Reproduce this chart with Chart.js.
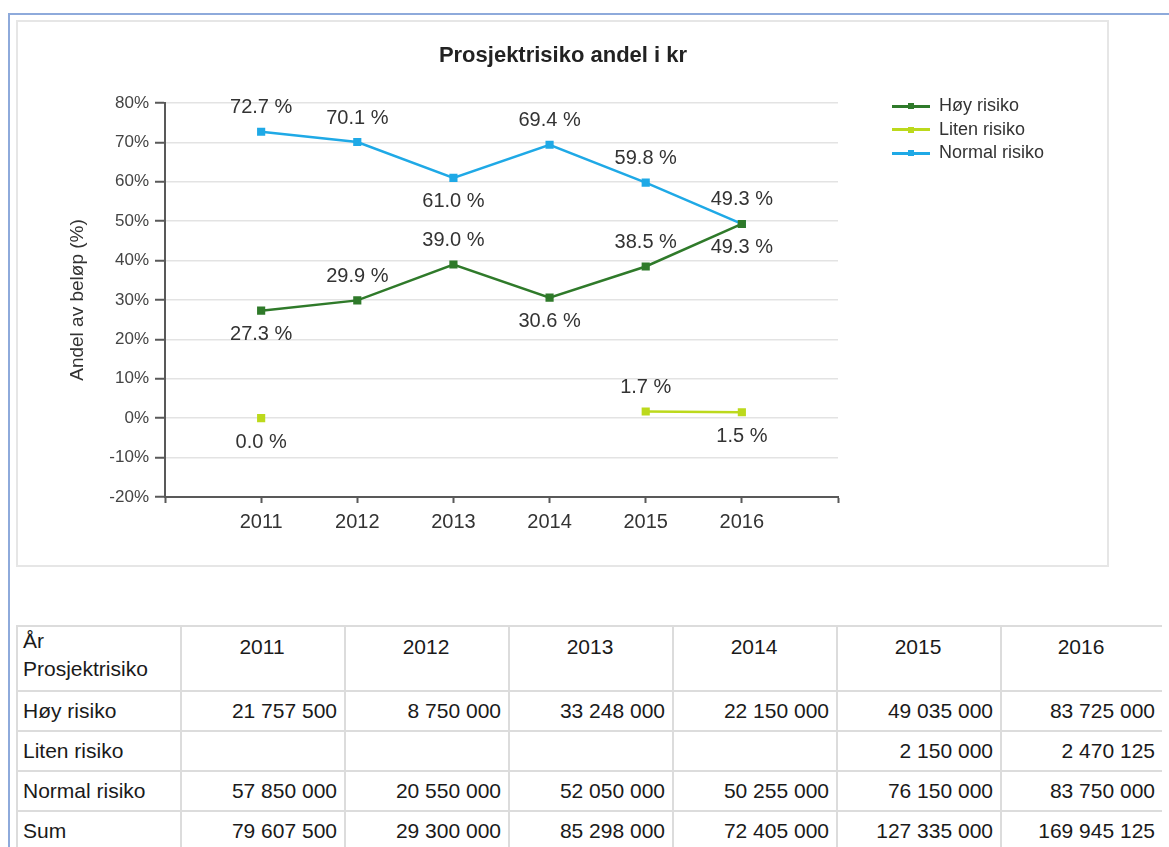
<!DOCTYPE html>
<html>
<head>
<meta charset="utf-8">
<script src="https://cdn.jsdelivr.net/npm/chart.js@4/dist/chart.umd.min.js"></script>
<style>
  html, body { margin: 0; padding: 0; }
  body { width: 1169px; height: 847px; overflow: hidden; position: relative; background: #fff;
         font-family: "Liberation Sans", Arial, sans-serif; }
  #blueTop { position: absolute; left: 8px; top: 13px; width: 1161px; height: 2px; background: #8eaadb; }
  #blueLeft { position: absolute; left: 8px; top: 13px; width: 2px; height: 834px; background: #8eaadb; }
  #panel { position: absolute; left: 16px; top: 20px; width: 1093px; height: 547px; box-sizing: border-box;
           border: 2px solid #e6e6e6; background: #fff; }
  #chartWrap { position: absolute; left: 16px; top: 20px; width: 1093px; height: 547px; }
  #title { position: absolute; left: 0; width: 1126px; top: 42px; line-height: 26px; text-align: center;
           font-size: 22px; font-weight: bold; color: #222; }
  #legend { position: absolute; left: 892px; top: 94px; font-size: 18px; color: #333; }
  .lg { position: relative; height: 23.5px; line-height: 23.5px; padding-left: 47px; white-space: nowrap; }
  .lg .ln { position: absolute; left: 0; top: 10.5px; width: 38px; height: 3px; }
  .lg .dt { position: absolute; left: 16px; top: 9px; width: 6px; height: 6px; }
  #tbl { position: absolute; left: 16px; top: 625px; border-collapse: collapse; font-size: 21px; color: #1a1a1a;
         table-layout: fixed; }
  #tbl td { border: 2px solid #dcdcdc; padding: 0 7px 0 5px; height: 38px; white-space: nowrap; }
  #tbl tr.hdr td { height: 57px; vertical-align: top; text-align: center; padding-top: 6px; line-height: 27px; }
  #tbl tr.hdr td.first { text-align: left; padding-top: 0; line-height: 28px; }
  #tbl td.num { text-align: right; }
  #tbl td:last-child { border-right: none; }
</style>
</head>
<body>
<div id="blueTop"></div>
<div id="blueLeft"></div>
<div id="panel"></div>
<div id="chartWrap"><canvas id="c" width="1093" height="547"></canvas></div>
<div id="title">Prosjektrisiko andel i kr</div>
<div id="legend"></div>
<table id="tbl"></table>
<script>
// ---- data ----
const years = [2011, 2012, 2013, 2014, 2015, 2016];
const seriesNames = ['Høy risiko', 'Liten risiko', 'Normal risiko'];
const hoyRisiko = [27.3, 29.9, 39.0, 30.6, 38.5, 49.3];
const litenRisiko = [0.0, null, null, null, 1.7, 1.5];
const normalRisiko = [72.7, 70.1, 61.0, 69.4, 59.8, 49.3];

// table amounts (kr)
const tableHoy = [21757500, 8750000, 33248000, 22150000, 49035000, 83725000];
const tableLiten = [null, null, null, null, 2150000, 2470125];
const tableNormal = [57850000, 20550000, 52050000, 50255000, 76150000, 83750000];
const tableSum = [79607500, 29300000, 85298000, 72405000, 127335000, 169945125];

// label placement (style only)
const hoyLabelPos = ['below', 'above', 'above', 'below', 'above', 'below'];
const litenLabelPos = ['below', null, null, null, 'above', 'below'];
const normalLabelPos = ['above', 'above', 'below', 'above', 'above', 'above'];

const colors = ['#2f7a2a', '#bcd91c', '#1fa9e6'];

function pts(arr) { return years.map((y, i) => ({ x: y, y: arr[i] })); }

const valueLabels = {
  id: 'valueLabels',
  afterDatasetsDraw(chart) {
    const ctx = chart.ctx;
    ctx.save();
    ctx.font = '20px "Liberation Sans", Arial, sans-serif';
    ctx.fillStyle = '#333';
    ctx.textAlign = 'center';
    ctx.textBaseline = 'middle';
    chart.data.datasets.forEach((ds, di) => {
      const meta = chart.getDatasetMeta(di);
      meta.data.forEach((el, j) => {
        const v = ds.data[j].y;
        if (v === null || v === undefined) return;
        const off = ds.labelPos[j] === 'above' ? -24 : 24;
        ctx.fillText(v.toFixed(1) + ' %', el.x, el.y + off);
      });
    });
    ctx.restore();
  }
};

const mk = (label, arr, color, pos) => ({
  label, data: pts(arr), borderColor: color, backgroundColor: color,
  borderWidth: 2.5, pointStyle: 'rect', pointRadius: 4, pointHoverRadius: 4,
  spanGaps: false, tension: 0, labelPos: pos
});

Chart.defaults.font.family = '"Liberation Sans", Arial, sans-serif';

new Chart(document.getElementById('c'), {
  type: 'line',
  data: {
    datasets: [
      mk(seriesNames[0], hoyRisiko, colors[0], hoyLabelPos),
      mk(seriesNames[1], litenRisiko, colors[1], litenLabelPos),
      mk(seriesNames[2], normalRisiko, colors[2], normalLabelPos)
    ]
  },
  options: {
    responsive: false,
    animation: false,
    layout: { padding: { left: 48, right: 271, top: 83, bottom: 0 } },
    plugins: {
      legend: { display: false },
      tooltip: { enabled: false },
      title: { display: false }
    },
    scales: {
      x: {
        type: 'linear', min: 2010, max: 2017,
        ticks: { stepSize: 1, autoSkip: false, maxRotation: 0, color: '#333', font: { size: 20 }, padding: 7,
                 callback: v => (v >= years[0] && v <= years[years.length - 1]) ? String(v) : '' },
        grid: { drawOnChartArea: false, drawTicks: true, tickLength: 6, tickColor: '#595959', tickWidth: 2 },
        border: { color: '#595959', width: 2 },
        afterFit(s) { s.height = 70; }
      },
      y: {
        min: -20, max: 80,
        ticks: { stepSize: 10, color: '#444', font: { size: 17 }, padding: 6, callback: v => v + '%' },
        grid: { color: '#e3e3e3', lineWidth: 1.5, tickLength: 10, tickColor: '#595959', tickWidth: 2 },
        border: { color: '#595959', width: 2 },
        title: { display: true, text: 'Andel av beløp (%)', color: '#333', font: { size: 19 },
                 padding: { top: 2, bottom: 0 } },
        afterFit(s) { s.width = 101; }
      }
    }
  },
  plugins: [valueLabels]
});

// legend
const lg = document.getElementById('legend');
seriesNames.forEach((n, i) => {
  const d = document.createElement('div');
  d.className = 'lg';
  d.innerHTML = '<span class="ln" style="background:' + colors[i] + '"></span><span class="dt" style="background:' +
    colors[i] + '"></span>' + n;
  lg.appendChild(d);
});

// table
function fmt(v) {
  if (v === null || v === undefined) return '';
  return String(v).replace(/\B(?=(\d{3})+(?!\d))/g, ' ');
}
const tbl = document.getElementById('tbl');
const colW = [164, 164, 164, 164, 164, 164, 161];
let html = '<colgroup>' + colW.map(w => '<col style="width:' + w + 'px">').join('') + '</colgroup>';
html += '<tr class="hdr"><td class="first">År<br>Prosjektrisiko</td>' + years.map(y => '<td>' + y + '</td>').join('') + '</tr>';
const rows = [[seriesNames[0], tableHoy], [seriesNames[1], tableLiten], [seriesNames[2], tableNormal], ['Sum', tableSum]];
rows.forEach(r => {
  html += '<tr><td>' + r[0] + '</td>' + r[1].map(v => '<td class="num">' + fmt(v) + '</td>').join('') + '</tr>';
});
tbl.innerHTML = html;
</script>
</body>
</html>
